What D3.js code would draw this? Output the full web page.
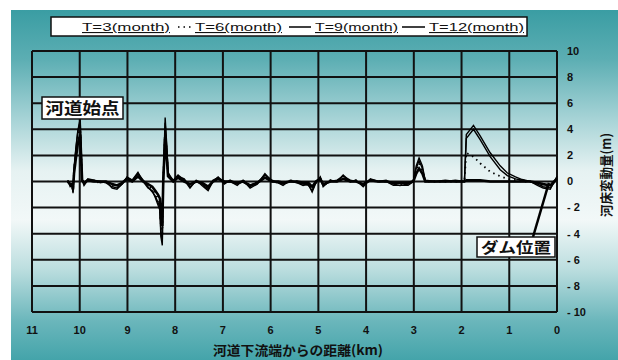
<!DOCTYPE html>
<html>
<head>
<meta charset="utf-8">
<script src="https://cdn.jsdelivr.net/npm/d3@7"></script>
<style>
  body { margin: 0; background: #fff; }
  svg { display: block; }
  text { font-family: "Liberation Sans", Arial, sans-serif; fill: #111; }
  .jp { font-family: "Noto Sans CJK JP", sans-serif; }
</style>
</head>
<body>
<svg id="chart" width="618" height="360"></svg>
<script>
// distance from the downstream end (km), shared by every series
const distance = [
  10.25, 10.20, 10.16, 10.14, 10.12, 10.08, 10.04, 9.99, 9.95, 9.91,
  9.83, 9.70, 9.57, 9.45, 9.32, 9.22, 9.11, 9.01, 8.90, 8.78,
  8.67, 8.57, 8.48, 8.42, 8.36, 8.32, 8.30, 8.27, 8.25, 8.21,
  8.17, 8.15, 8.04, 7.94, 7.81, 7.69, 7.56, 7.44, 7.31, 7.21,
  7.10, 6.97, 6.85, 6.70, 6.58, 6.43, 6.28, 6.12, 5.97, 5.84,
  5.74, 5.59, 5.44, 5.32, 5.21, 5.13, 5.05, 4.96, 4.90, 4.75,
  4.61, 4.48, 4.33, 4.21, 4.06, 3.91, 3.75, 3.58, 3.43, 3.29,
  3.12, 3.01, 2.95, 2.89, 2.82, 2.76, 2.55, 2.34, 2.13, 1.94,
  1.90, 1.75, 1.61, 1.40, 1.19, 1.04, 0.87, 0.73, 0.56, 0.41,
  0.29, 0.14, 0.06, 0.00
];

// bed change (m)
const t3 = [
  0.0, -0.2, -0.2, -0.6, 0.6, 1.8, 2.9, 3.6, 0.1, -0.1,
  0.1, 0.0, 0.0, 0.0, -0.2, -0.3, -0.1, 0.2, 0.0, 0.4,
  0.0, -0.2, -0.4, -0.7, -1.0, -1.3, -2.8, -3.4, 0.0, 3.4,
  1.5, 0.4, 0.0, 0.3, 0.0, -0.2, 0.0, -0.1, -0.4, 0.0,
  0.2, 0.0, 0.0, -0.1, 0.0, -0.3, -0.1, 0.3, 0.0, 0.0,
  -0.1, 0.0, 0.0, -0.1, -0.1, -0.4, 0.0, 0.2, -0.2, 0.0,
  0.0, 0.2, 0.0, 0.0, -0.2, 0.1, 0.0, 0.0, -0.1, -0.1,
  -0.1, 0.0, 0.6, 1.0, 0.6, 0.0, 0.0, 0.0, 0.0, 0.0,
  0.1, 0.1, 0.1, 0.0, 0.0, 0.0, 0.0, 0.0, 0.0, -0.1,
  -0.2, -0.3, 0.0, 0.2
];
const t6 = [
  0.0, -0.3, -0.2, -0.7, 0.8, 2.2, 3.4, 4.2, 0.2, -0.1,
  0.1, 0.0, -0.1, 0.0, -0.3, -0.4, -0.1, 0.2, 0.0, 0.5,
  0.0, -0.3, -0.6, -0.9, -1.3, -1.7, -3.4, -4.0, 0.1, 4.0,
  1.8, 0.5, 0.1, 0.3, 0.1, -0.3, 0.1, -0.2, -0.5, 0.0,
  0.2, -0.1, 0.0, -0.2, 0.1, -0.3, -0.1, 0.4, 0.0, -0.1,
  -0.2, 0.1, 0.0, -0.2, -0.1, -0.6, -0.1, 0.2, -0.3, 0.1,
  0.0, 0.3, 0.0, 0.1, -0.3, 0.1, 0.0, 0.0, -0.2, -0.2,
  -0.2, 0.0, 0.9, 1.4, 0.8, 0.0, 0.0, 0.0, 0.0, 0.0,
  2.2, 1.9, 1.4, 0.75, 0.4, 0.2, 0.1, 0.0, 0.0, -0.2,
  -0.3, -0.4, 0.0, 0.2
];
const t9 = [
  0.1, -0.3, -0.4, -0.8, 0.9, 2.5, 3.8, 4.6, 0.1, -0.3,
  0.1, 0.1, 0.0, -0.1, -0.4, -0.5, -0.2, 0.3, 0.1, 0.6,
  0.1, -0.4, -0.8, -1.1, -1.6, -2.0, -3.9, -4.6, 0.2, 4.5,
  2.2, 0.7, 0.0, 0.4, 0.2, -0.4, 0.0, -0.2, -0.6, 0.1,
  0.3, -0.2, 0.1, -0.2, 0.0, -0.4, -0.1, 0.5, 0.1, -0.1,
  -0.2, 0.0, -0.1, -0.2, -0.3, -0.7, 0.0, 0.3, -0.3, 0.0,
  0.1, 0.4, 0.1, 0.0, -0.3, 0.1, 0.0, 0.1, -0.2, -0.3,
  -0.2, 0.1, 1.0, 1.6, 1.0, 0.1, 0.0, 0.0, 0.1, 0.0,
  3.3, 4.0, 3.2, 1.9, 0.9, 0.45, 0.2, 0.1, 0.0, -0.2,
  -0.4, -0.5, -0.1, 0.3
];
const t12 = [
  0.1, -0.4, -0.3, -0.9, 1.0, 2.6, 3.9, 4.8, 0.2, -0.2,
  0.2, 0.1, -0.1, 0.0, -0.5, -0.6, -0.2, 0.35, 0.1, 0.7,
  0.0, -0.5, -0.7, -1.2, -1.8, -2.2, -4.2, -4.9, 0.0, 4.9,
  2.4, 0.6, 0.1, 0.5, 0.1, -0.5, 0.1, -0.3, -0.7, 0.0,
  0.35, -0.1, 0.0, -0.3, 0.1, -0.5, -0.2, 0.6, 0.0, -0.1,
  -0.3, 0.1, -0.1, -0.3, -0.2, -0.8, -0.1, 0.35, -0.4, 0.1,
  0.0, 0.5, 0.0, 0.1, -0.4, 0.2, 0.0, 0.0, -0.3, -0.3,
  -0.3, 0.0, 1.2, 1.8, 1.2, 0.0, 0.0, 0.1, 0.0, 0.0,
  3.6, 4.3, 3.5, 2.2, 1.2, 0.65, 0.35, 0.15, 0.0, -0.3,
  -0.5, -0.6, 0.0, 0.4
];

const seriesNames = ['T=3(month)', 'T=6(month)', 'T=9(month)', 'T=12(month)'];
const xTicks = [11, 10, 9, 8, 7, 6, 5, 4, 3, 2, 1, 0];
const yTicks = [10, 8, 6, 4, 2, 0, -2, -4, -6, -8, -10];

const svg = d3.select('#chart');

// background panel with vertical teal-white-teal fade
const defs = svg.append('defs');
const grad = defs.append('linearGradient')
  .attr('id', 'bg').attr('x1', 0).attr('y1', 0).attr('x2', 0).attr('y2', 1);
[[0, '#3a9da3'], [0.14, '#5caeb3'], [0.31, '#a6d3d6'], [0.46, '#e6f2f2'],
 [0.60, '#f2f8f8'], [0.74, '#bcdedf'], [0.89, '#6ab6bb'], [1, '#44a4aa']]
  .forEach(s => grad.append('stop').attr('offset', s[0]).attr('stop-color', s[1]));

svg.append('rect').attr('width', 618).attr('height', 360).attr('fill', '#fff');
svg.append('rect')
  .attr('x', 11).attr('y', 10).attr('width', 607).attr('height', 350)
  .attr('fill', 'url(#bg)');

const x = d3.scaleLinear().domain([11, 0]).range([32, 557]);
const y = d3.scaleLinear().domain([-10, 10]).range([312, 51]);

// grid
svg.append('g').selectAll('line')
  .data(xTicks).enter().append('line')
  .attr('x1', d => x(d)).attr('x2', d => x(d))
  .attr('y1', y(10)).attr('y2', y(-10))
  .attr('stroke', '#111').attr('stroke-width', 2);
svg.append('g').selectAll('line')
  .data(yTicks).enter().append('line')
  .attr('x1', x(11)).attr('x2', x(0))
  .attr('y1', d => y(d)).attr('y2', d => y(d))
  .attr('stroke', '#111').attr('stroke-width', 2);

// tick labels
svg.append('g').selectAll('text')
  .data(xTicks).enter().append('text')
  .attr('x', d => x(d)).attr('y', 334)
  .attr('text-anchor', 'middle')
  .style('font-size', '11px').style('font-weight', 'bold')
  .text(d => d);
svg.append('g').selectAll('text')
  .data(yTicks).enter().append('text')
  .attr('x', 567).attr('y', d => y(d)).attr('dy', '0.35em')
  .style('font-size', '11px').style('font-weight', 'bold')
  .text(d => d < 0 ? '- ' + (-d) : d);

// axis titles
svg.append('text').attr('class', 'jp')
  .attr('x', 298).attr('y', 355).attr('text-anchor', 'middle')
  .attr('textLength', 170).attr('lengthAdjust', 'spacingAndGlyphs')
  .style('font-size', '13px').style('font-weight', 'bold')
  .text('河道下流端からの距離(km)');
svg.append('text').attr('class', 'jp')
  .attr('transform', 'translate(611,175) rotate(-90)')
  .attr('text-anchor', 'middle')
  .attr('textLength', 84).attr('lengthAdjust', 'spacingAndGlyphs')
  .style('font-size', '13px').style('font-weight', 'bold')
  .text('河床変動量(m)');

// series lines
const series = [
  {name: seriesNames[0], values: t3, width: 2.6, dash: null},
  {name: seriesNames[1], values: t6, width: 1.8, dash: '1.5,4'},
  {name: seriesNames[2], values: t9, width: 1.4, dash: null},
  {name: seriesNames[3], values: t12, width: 1.4, dash: null}
];
const line = d3.line()
  .x(d => x(d[0]))
  .y(d => y(d[1]));
svg.append('g').selectAll('path')
  .data(series).enter().append('path')
  .attr('d', s => line(distance.map((k, i) => [k, s.values[i]])))
  .attr('fill', 'none')
  .attr('stroke', '#000')
  .attr('stroke-width', s => s.width)
  .attr('stroke-dasharray', s => s.dash);

// legend
const legend = svg.append('g');
legend.append('rect')
  .attr('x', 51).attr('y', 17).attr('width', 476).attr('height', 19)
  .attr('fill', '#fff').attr('stroke', '#111').attr('stroke-width', 1.5);
const legendItems = [
  {name: seriesNames[0], sx: null, tx: 82, tw: 88, dash: null},
  {name: seriesNames[1], sx: [178, 192], tx: 195, tw: 87, dash: '1.5,4'},
  {name: seriesNames[2], sx: [289, 311], tx: 315, tw: 83, dash: null},
  {name: seriesNames[3], sx: [402, 425], tx: 429, tw: 95, dash: null}
];
legendItems.filter(d => d.sx).forEach(d => {
  legend.append('line')
    .attr('x1', d.sx[0]).attr('x2', d.sx[1]).attr('y1', 27).attr('y2', 27)
    .attr('stroke', '#000').attr('stroke-width', 1.5)
    .attr('stroke-dasharray', d.dash);
});
legend.selectAll('text')
  .data(legendItems).enter().append('text')
  .attr('x', d => d.tx).attr('y', 31)
  .attr('textLength', d => d.tw).attr('lengthAdjust', 'spacingAndGlyphs')
  .style('font-size', '11px').style('text-decoration', 'underline')
  .text(d => d.name);

// callouts
svg.append('line')
  .attr('x1', x(9.99)).attr('x2', x(9.99))
  .attr('y1', 119).attr('y2', y(4.8))
  .attr('stroke', '#000').attr('stroke-width', 1.5);
svg.append('rect')
  .attr('x', 42).attr('y', 97).attr('width', 81).attr('height', 22)
  .attr('fill', '#fff').attr('stroke', '#111').attr('stroke-width', 1.5);
svg.append('text').attr('class', 'jp')
  .attr('x', 82.5).attr('y', 114).attr('text-anchor', 'middle')
  .attr('textLength', 74).attr('lengthAdjust', 'spacingAndGlyphs')
  .style('font-size', '16px').style('font-weight', 'bold')
  .text('河道始点');

svg.append('line')
  .attr('x1', 533).attr('y1', 237)
  .attr('x2', x(0.17)).attr('y2', y(-0.1))
  .attr('stroke', '#000').attr('stroke-width', 2.5);
svg.append('rect')
  .attr('x', 477).attr('y', 237).attr('width', 78).attr('height', 20)
  .attr('fill', '#fff').attr('stroke', '#111').attr('stroke-width', 1.5);
svg.append('text').attr('class', 'jp')
  .attr('x', 516).attr('y', 253).attr('text-anchor', 'middle')
  .attr('textLength', 70).attr('lengthAdjust', 'spacingAndGlyphs')
  .style('font-size', '15px').style('font-weight', 'bold')
  .text('ダム位置');
</script>
</body>
</html>
